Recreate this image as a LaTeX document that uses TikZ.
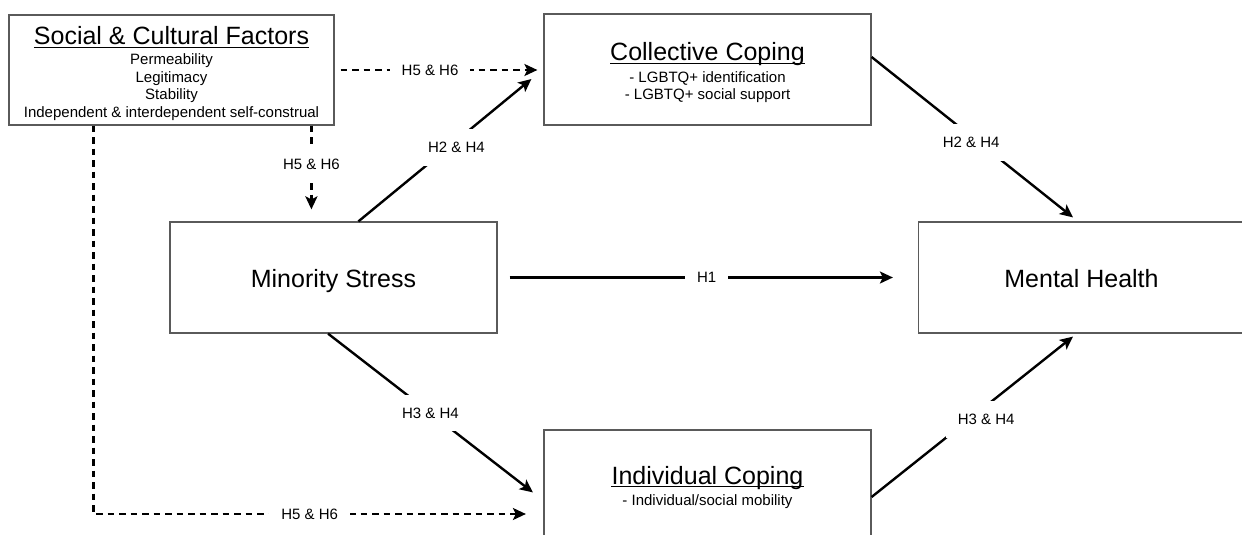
\documentclass[tikz,border=0pt]{standalone}
\usepackage{fontspec}
\setmainfont{Liberation Sans}
\usetikzlibrary{arrows.meta,calc}
\definecolor{boxgray}{HTML}{5A5A5A}

\begin{document}
\begin{tikzpicture}[x=1pt,y=-1pt,
  box/.style={draw=boxgray, line width=1.2pt, minimum width=327pt, minimum height=111pt, inner sep=0pt},
  heading/.style={font=\fontsize{25}{30}\selectfont, anchor=base, inner sep=0pt},
  subline/.style={font=\fontsize{15}{18}\selectfont, anchor=base, inner sep=0pt},
  lab/.style={font=\fontsize{15}{18}\selectfont, fill=white, inner xsep=12pt, inner ysep=13pt},
  conn/.style={line width=2.4pt, -{Stealth[length=13pt,width=12pt,inset=3pt]}},
  dconn/.style={conn, dash pattern=on 6.5pt off 5pt},
  ul/.style={line width=1.4pt}
]
\useasboundingbox[fill=white] (0,0) rectangle (1242,535);

% boxes
\node[box, minimum width=325pt, minimum height=110pt] (sc) at (171.5,70) {};
\node[box] (cc) at (707.5,69.5) {};
\node[box] (ms) at (333.5,277.5) {};
\node[box] (mh) at (1082,277.5) {};
\node[box] (ic) at (707.5,485.5) {};

% social & cultural factors
\node[heading] (sct) at (171.5,45) {Social \& Cultural Factors};
\draw[ul] ($(sct.base west)+(0,2.5)$) -- ($(sct.base east)+(0,2.5)$);
\node[subline] (sc1) at (171.5,64.5) {Permeability};
\node[subline] (sc2) at (171.5,82) {Legitimacy};
\node[subline] (sc3) at (171.5,99.5) {Stability};
\node[subline] (sc4) at (171.5,117) {Independent \& interdependent self-construal};

% collective coping
\node[heading] (cct) at (707.5,61) {Collective Coping};
\draw[ul] ($(cct.base west)+(0,2.5)$) -- ($(cct.base east)+(0,2.5)$);
\node[subline] (cc1) at (707.5,82) {- LGBTQ+ identification};
\node[subline] (cc2) at (707.5,99.5) {- LGBTQ+ social support};

% minority stress / mental health
\node[heading] (mst) at (333.5,287) {Minority Stress};
\node[heading] (mht) at (1081.5,287) {Mental Health};

% individual coping
\node[heading] (ict) at (707.5,484) {Individual Coping};
\draw[ul] ($(ict.base west)+(0,2.5)$) -- ($(ict.base east)+(0,2.5)$);
\node[subline] (ic1) at (707.5,505) {- Individual/social mobility};

% moderating paths
\draw[dconn] ($(sc.east)+(6,0)$) -- node[lab, pos=0.4545] {H5 \& H6} ($(cc.west)+(-6,0.5)$);
\draw[dconn] ($(sc.south west)+(303,0)$) -- node[lab, pos=0.465] {H5 \& H6} ($(ms.north west)+(142,-12)$);
\draw[dconn] ($(sc.south west)+(85,0)$) |- node[lab, pos=0.75] {H5 \& H6} ($(ic.west)+(-17.5,28.5)$);

% direct and mediated paths
\draw[conn] ($(ms.east)+(12,0)$) -- node[lab, pos=0.514] {H1} ($(mh.west)+(-25,0)$);
\draw[conn] ($(ms.north west)+(189,0)$) -- node[lab, pos=0.517, xshift=8.5pt] {H2 \& H4} ($(cc.west)+(-12,9.5)$);
\draw[conn] ($(cc.east)+(0,-12.5)$) -- node[lab, pos=0.534, xshift=-8pt] {H2 \& H4} ($(mh.north)+(-9,-4)$);
\draw[conn] ($(ms.south)+(-5.5,0)$) -- node[lab, pos=0.5] {H3 \& H4} ($(ic.north west)+(-10.5,63)$);
\draw[conn] ($(ic.east)+(0,11.5)$) -- node[lab, pos=0.4845, xshift=17pt] {H3 \& H4} ($(mh.south)+(-9,3)$);
\end{tikzpicture}
\end{document}
